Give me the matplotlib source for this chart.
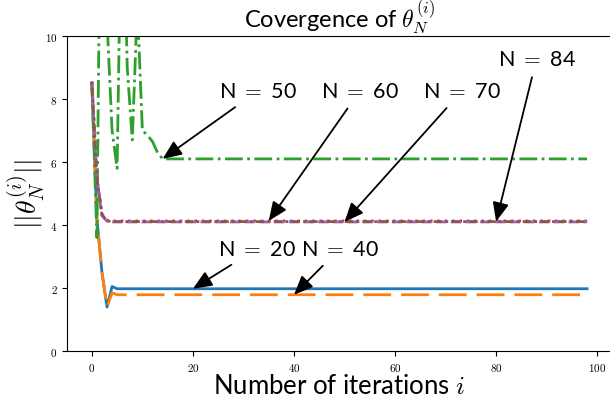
import matplotlib
matplotlib.use("Agg")
import matplotlib.pyplot as plt
import numpy as np

plt.rcParams['font.family'] = ['Lato', 'DejaVu Sans']
plt.rcParams['mathtext.fontset'] = 'cm'

# iterations 0..98
iters = np.arange(99)

# values (first iterations, then the settled value)
n20 = [8.5, 4.2, 2.5, 1.4, 2.05] + [1.98] * 94
n40 = [8.5, 4.2, 2.5, 1.4, 1.85] + [1.79] * 94
n50 = [8.5, 3.6, 20.0, 10.5, 7.0, 5.8, 16.0, 9.0, 6.7, 11.0,
       7.0, 6.85, 6.65, 6.3, 6.1] + [6.1] * 84
n60 = [8.55, 5.5, 4.35, 4.15, 4.13] + [4.13] * 94
n70 = [8.55, 5.45, 4.3, 4.12, 4.10] + [4.10] * 94
n84 = [8.55, 5.5, 4.33, 4.13, 4.11] + [4.11] * 94

series = [n20, n40, n50, n60, n70, n84]
colors = ['C0', 'C1', 'C2', 'C3', 'C4', 'C5']
styles = ['-', (0, (10, 3.6)), '-.', ':', '--', (0, (1, 1.2, 3, 1.2))]

# annotation labels, arrow targets and text centres (data coords)
labels = ['N = 20', 'N = 40', 'N = 50', 'N = 60', 'N = 70', 'N = 84']
arrow_x = [20, 40, 14, 35, 50, 80]
text_xy = [(32.6, 3.24), (49.0, 3.24), (32.8, 8.25), (53, 8.25), (73.2, 8.25), (88, 9.27)]

fig = plt.figure(figsize=(6.1, 4.02), dpi=100)
ax = fig.add_axes([0.110, 0.124, 0.893, 0.784])

for s, c, ls in zip(series, colors, styles):
    ax.plot(iters, s, color=c, linestyle=ls, linewidth=2)

ax.set_ylim(0, 10)

for lab, xi, s, (tx, ty) in zip(labels, arrow_x, series, text_xy):
    ax.annotate(lab.replace(' = ', ' $=$ '), xy=(xi, s[xi]), xytext=(tx, ty),
                ha='center', va='center', fontsize=15.5,
                arrowprops=dict(arrowstyle='-|>,head_length=0.75,head_width=0.32',
                                color='black', lw=1.3, shrinkA=4, shrinkB=0))

ax.set_title(r'Covergence of $\theta_N^{(i)}$', fontsize=17, pad=2)
ax.set_xlabel(r'Number of iterations $i$', fontsize=18.5, labelpad=0)
ax.set_ylabel(r'$||\theta_N^{(i)}||$', fontsize=20, labelpad=-1.5)

ax.xaxis.set_major_formatter(plt.FuncFormatter(lambda v, p: '$%g$' % v))
ax.yaxis.set_major_formatter(plt.FuncFormatter(lambda v, p: '$%g$' % v))
ax.tick_params(labelsize=8)

fig.savefig('out.png', dpi=100)
